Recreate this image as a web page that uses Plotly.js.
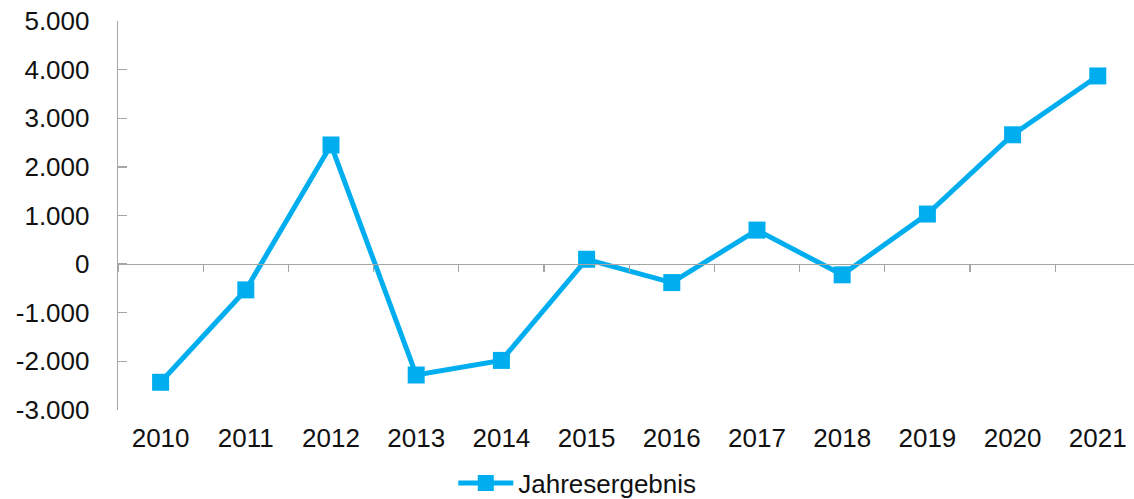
<!DOCTYPE html>
<html>
<head>
<meta charset="utf-8">
<script src="https://cdn.plot.ly/plotly-3.0.1.min.js"></script>
<style>html,body{margin:0;padding:0;background:#fff;}#chart{width:1134px;height:499px;}</style>
</head>
<body>
<div id="chart"></div>
<script>
const years = ['2010','2011','2012','2013','2014','2015','2016','2017','2018','2019','2020','2021'];
const jahresergebnis = [-2430, -530, 2450, -2280, -1980, 100, -380, 700, -220, 1030, 2660, 3870];
const seriesName = 'Jahresergebnis';
const yTickValues = [-3000, -2000, -1000, 0, 1000, 2000, 3000, 4000, 5000];
const yTickLabels = ['-3.000', '-2.000', '-1.000', '0', '1.000', '2.000', '3.000', '4.000', '5.000'];

const blue = '#00AEEF';
const axisGray = '#A6A6A6';
const font = {family: 'Liberation Sans, Arial, sans-serif', size: 26, color: '#111'};
const yMin = -3000, yMax = 5000;

const traces = [
  {
    x: years, y: jahresergebnis, name: seriesName, type: 'scatter', mode: 'lines+markers',
    line: {color: blue, width: 5},
    marker: {symbol: 'square', size: 17, color: blue},
    hoverinfo: 'x+y'
  },
  {
    x: [], y: [], xaxis: 'x2', yaxis: 'y', type: 'scatter', mode: 'lines',
    showlegend: false, hoverinfo: 'skip'
  }
];

const layout = {
  width: 1134, height: 499,
  margin: {l: 118, r: 0, t: 21, b: 89, autoexpand: false},
  paper_bgcolor: '#fff', plot_bgcolor: '#fff',
  font: font,
  showlegend: true,
  legend: {
    orientation: 'h', x: 0.33, xanchor: 'left', y: -0.188, yanchor: 'middle',
    font: font, itemwidth: 55, bgcolor: 'rgba(0,0,0,0)'
  },
  xaxis: {
    type: 'category', categoryarray: years, range: [-0.5, 11.425],
    showline: false, showgrid: false, zeroline: false, ticks: '',
    ticklabelstandoff: 10, tickfont: font, fixedrange: true
  },
  xaxis2: {
    overlaying: 'x', anchor: 'free', position: (0 - yMin) / (yMax - yMin),
    type: 'linear', range: [-0.5, 11.425],
    showline: true, linecolor: axisGray, linewidth: 1.3,
    ticks: 'outside', tick0: 0.5, dtick: 1, ticklen: 7, tickcolor: axisGray, tickwidth: 1.3,
    showticklabels: false, showgrid: false, zeroline: false, fixedrange: true
  },
  yaxis: {
    range: [yMin, yMax], tickvals: yTickValues, ticktext: yTickLabels,
    showline: true, linecolor: axisGray, linewidth: 1.3,
    ticks: 'inside', ticklen: 9, tickcolor: axisGray, tickwidth: 1.3,
    showgrid: false, zeroline: false, ticklabelstandoff: 22,
    tickfont: font, fixedrange: true
  }
};

Plotly.newPlot('chart', traces, layout, {displayModeBar: false, staticPlot: true});
</script>
</body>
</html>
